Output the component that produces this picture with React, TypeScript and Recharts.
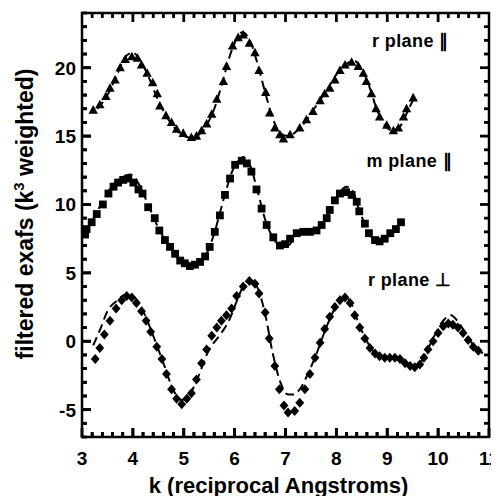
import React from "react";
import { ComposedChart, Line, XAxis, YAxis, ReferenceDot, ReferenceArea } from "recharts";

type Pt = [number, number];

// r plane, parallel (triangles) and its fit
const rParPoints: Pt[] = [
  [3.22, 16.9], [3.35, 17.3], [3.47, 17.9], [3.55, 18.5], [3.65, 19.1], [3.75, 20.0],
  [3.85, 20.6], [3.98, 20.8], [4.09, 20.7], [4.17, 20.2], [4.28, 19.6], [4.39, 18.9],
  [4.48, 18.1], [4.53, 17.2], [4.65, 16.5], [4.76, 16.0], [4.86, 15.5], [4.99, 15.2],
  [5.15, 14.9], [5.25, 15.0], [5.35, 15.4], [5.45, 15.9], [5.55, 16.6], [5.65, 17.7],
  [5.78, 19.0], [5.84, 20.1], [5.96, 21.6], [6.07, 22.2], [6.17, 22.4], [6.29, 21.8],
  [6.4, 21.1], [6.48, 19.8], [6.61, 18.2], [6.69, 16.7], [6.79, 15.6], [6.89, 15.1],
  [6.96, 14.8], [7.09, 15.1], [7.28, 15.6], [7.41, 16.2], [7.54, 16.8], [7.68, 17.6],
  [7.77, 18.1], [7.87, 18.5], [7.97, 19.1], [8.07, 19.8], [8.17, 20.2], [8.3, 20.4],
  [8.43, 20.1], [8.53, 19.6], [8.59, 19.0], [8.69, 18.1], [8.78, 17.0], [8.85, 16.4],
  [8.99, 15.8], [9.12, 15.4], [9.22, 15.6], [9.32, 16.4], [9.38, 17.0], [9.51, 17.8],
];
const rParFit: Pt[] = [
  [3.3, 17.0], [3.5, 18.0], [3.7, 19.6], [3.85, 20.8], [4.0, 21.1], [4.15, 20.5],
  [4.3, 19.4], [4.5, 17.6], [4.7, 16.2], [4.9, 15.3], [5.1, 14.9], [5.3, 15.1],
  [5.45, 15.8], [5.6, 17.0], [5.75, 18.8], [5.9, 20.8], [6.05, 22.2], [6.15, 22.6],
  [6.3, 22.0], [6.45, 20.3], [6.6, 18.2], [6.75, 16.3], [6.9, 15.2], [7.05, 15.0],
  [7.2, 15.3], [7.4, 16.1], [7.6, 17.2], [7.8, 18.3], [8.0, 19.5], [8.2, 20.3],
  [8.35, 20.5], [8.5, 19.9], [8.65, 18.6], [8.8, 16.9], [8.95, 15.8], [9.1, 15.4],
  [9.25, 15.7], [9.4, 16.8], [9.55, 18.0],
];

// m plane, parallel (squares) and its fit
const mParPoints: Pt[] = [
  [3.06, 7.8], [3.09, 8.2], [3.19, 8.7], [3.29, 9.3], [3.41, 10.0], [3.52, 10.8],
  [3.62, 11.3], [3.71, 11.6], [3.81, 11.8], [3.91, 11.9], [4.01, 11.6], [4.11, 11.1],
  [4.19, 10.8], [4.3, 9.8], [4.43, 9.0], [4.52, 8.1], [4.63, 7.4], [4.73, 6.9],
  [4.83, 6.4], [4.93, 5.9], [5.02, 5.7], [5.12, 5.5], [5.22, 5.6], [5.32, 5.8],
  [5.42, 6.2], [5.51, 6.9], [5.61, 8.0], [5.71, 9.2], [5.81, 10.7], [5.91, 11.9],
  [6.01, 12.9], [6.14, 13.2], [6.24, 13.0], [6.33, 12.4], [6.43, 11.1], [6.53, 9.7],
  [6.63, 8.5], [6.76, 7.6], [6.89, 7.0], [6.99, 7.1], [7.09, 7.5], [7.22, 7.9],
  [7.35, 8.0], [7.48, 8.0], [7.61, 8.1], [7.71, 8.5], [7.81, 9.0], [7.87, 9.6],
  [7.97, 10.3], [8.07, 10.8], [8.19, 10.9], [8.3, 10.7], [8.4, 10.2], [8.45, 9.5],
  [8.56, 8.6], [8.64, 7.9], [8.76, 7.4], [8.85, 7.3], [8.95, 7.5], [9.06, 7.9],
  [9.17, 8.2], [9.27, 8.7],
];
const mParFit: Pt[] = [
  [3.05, 7.9], [3.2, 8.8], [3.4, 10.2], [3.6, 11.4], [3.8, 12.0], [3.95, 12.2],
  [4.1, 11.6], [4.3, 10.0], [4.5, 8.3], [4.7, 7.0], [4.9, 6.0], [5.1, 5.5],
  [5.3, 5.7], [5.45, 6.4], [5.6, 7.9], [5.8, 10.6], [5.95, 12.4], [6.1, 13.3],
  [6.2, 13.5], [6.3, 12.9], [6.45, 11.0], [6.6, 8.9], [6.75, 7.6], [6.9, 7.0],
  [7.05, 7.0], [7.2, 7.7], [7.4, 8.0], [7.6, 8.1], [7.75, 8.7], [7.9, 9.8],
  [8.05, 10.8], [8.2, 11.3], [8.3, 11.1], [8.45, 9.6], [8.6, 8.2], [8.8, 7.3],
  [8.95, 7.4], [9.1, 8.0], [9.27, 8.7],
];

// r plane, perpendicular (diamonds) and its fit
const rPerpPoints: Pt[] = [
  [3.26, -1.3], [3.35, -0.5], [3.44, 0.5], [3.55, 1.5], [3.67, 2.4], [3.78, 3.0],
  [3.88, 3.3], [3.98, 3.2], [4.07, 2.8], [4.17, 2.2], [4.26, 1.5], [4.35, 0.7],
  [4.47, -0.4], [4.57, -1.3], [4.66, -2.4], [4.76, -3.5], [4.86, -4.2], [4.96, -4.6],
  [5.06, -4.2], [5.15, -3.8], [5.25, -2.8], [5.35, -1.6], [5.45, -0.6], [5.55, 0.4],
  [5.65, 1.0], [5.74, 1.5], [5.84, 1.9], [5.94, 2.4], [6.04, 3.3], [6.17, 4.0],
  [6.29, 4.4], [6.4, 4.2], [6.48, 3.5], [6.6, 2.1], [6.68, 0.2], [6.79, -1.8],
  [6.88, -3.5], [6.97, -4.7], [7.05, -5.2], [7.18, -5.1], [7.28, -4.5], [7.38, -3.5],
  [7.48, -2.4], [7.58, -1.2], [7.68, -0.1], [7.77, 0.9], [7.87, 1.8], [7.97, 2.5],
  [8.07, 3.0], [8.17, 3.2], [8.27, 2.8], [8.36, 1.9], [8.46, 1.0], [8.56, 0.2],
  [8.66, -0.5], [8.76, -0.9], [8.85, -1.1], [8.95, -1.2], [9.05, -1.2], [9.15, -1.2],
  [9.25, -1.3], [9.35, -1.6], [9.45, -1.8], [9.54, -1.9], [9.64, -1.7], [9.72, -1.2],
  [9.8, -0.6], [9.9, 0.0], [10.0, 0.6], [10.1, 1.1], [10.2, 1.3], [10.29, 1.2],
  [10.39, 1.0], [10.49, 0.6], [10.59, 0.1], [10.69, -0.4], [10.79, -0.7],
];
const rPerpFit: Pt[] = [
  [3.22, -0.3], [3.35, 0.8], [3.5, 2.2], [3.7, 3.0], [3.85, 3.4], [4.0, 3.3],
  [4.2, 2.2], [4.4, 0.4], [4.6, -1.6], [4.8, -3.6], [4.95, -4.3], [5.1, -4.0],
  [5.25, -2.9], [5.5, -0.6], [5.7, 0.4], [5.9, 1.6], [6.05, 3.0], [6.15, 3.9],
  [6.3, 4.5], [6.45, 3.9], [6.6, 2.0], [6.75, -0.9], [6.9, -3.0], [7.05, -3.9],
  [7.15, -3.9], [7.3, -3.4], [7.45, -2.3], [7.6, -1.0], [7.8, 1.0], [8.0, 2.6],
  [8.15, 3.3], [8.3, 2.7], [8.45, 1.2], [8.6, 0.0], [8.8, -1.0], [9.0, -1.2],
  [9.2, -1.3], [9.4, -1.7], [9.55, -1.9], [9.7, -1.3], [9.9, 0.2], [10.1, 1.5],
  [10.25, 1.9], [10.4, 1.4], [10.6, 0.2], [10.8, -0.7], [10.9, -0.9],
];

const xMajorTicks = [3, 4, 5, 6, 7, 8, 9, 10, 11];
const yMajorTicks = [-5, 0, 5, 10, 15, 20];
const xDomain: [number, number] = [3, 11];
const yDomain: [number, number] = [-7, 24];

const notes = [
  { text: "r plane \u2225", k: 8.7, v: 21.5 },
  { text: "m plane \u2225", k: 8.59, v: 12.73 },
  { text: "r plane \u22A5", k: 8.62, v: 4.03 },
];

const FONT = "'Liberation Sans', Arial, Helvetica, sans-serif";

const rows = (pts: Pt[]) => pts.map(([k, v]) => ({ k, v }));

// minor tick positions along an axis (x every 0.2, y every 1)
function minorTicks(lo: number, hi: number, step: number) {
  const out: number[] = [];
  const n = Math.round((hi - lo) / step);
  for (let i = 0; i <= n; i++) out.push(Math.round((lo + i * step) * 10) / 10);
  return out;
}
const xTicks = minorTicks(3, 11, 0.2);
const yTicks = minorTicks(-7, 24, 1);
const isMajor = (majors: number[], v: number) => majors.some((m) => Math.abs(m - v) < 1e-6);

// tick mark sizes (pixels), turned into data units for the plot box of 407 x 424 px
const X_PER_PX = (xDomain[1] - xDomain[0]) / 407;
const Y_PER_PX = (yDomain[1] - yDomain[0]) / 424;
const MAJOR_PX = 9;
const MINOR_PX = 5;
const HALF_W_PX = 1.4;

const innerX = xTicks.filter((v) => v > xDomain[0] && v < xDomain[1]);
const innerY = yTicks.filter((v) => v > yDomain[0] && v < yDomain[1]);

// tick rows sitting on the frame (carry the numbers and a second tick layer)
const bottomTicks = xTicks.map((k) => ({ k, v: yDomain[0] }));
const leftTicks = yTicks.map((v) => ({ k: xDomain[0], v }));

const tickText = { fontFamily: FONT, fontSize: 19, fontWeight: 700, fill: "#000" };

const bottomTick = (p: any) => {
  const major = isMajor(xMajorTicks, p.payload.k);
  const len = major ? MAJOR_PX : MINOR_PX;
  return (
    <g key={`bt${p.index}`}>
      <rect x={p.cx - HALF_W_PX} y={p.cy - len} width={2 * HALF_W_PX} height={len} fill="#000" />
      {major && <text x={p.cx} y={p.cy + 28} textAnchor="middle" {...tickText}>{Math.round(p.payload.k)}</text>}
    </g>
  );
};
const leftTick = (p: any) => {
  const major = isMajor(yMajorTicks, p.payload.v);
  const len = major ? MAJOR_PX : MINOR_PX;
  return (
    <g key={`lt${p.index}`}>
      <rect x={p.cx} y={p.cy - HALF_W_PX} width={len} height={2 * HALF_W_PX} fill="#000" />
      {major && <text x={p.cx - 6} y={p.cy + 7} textAnchor="end" {...tickText}>{Math.round(p.payload.v)}</text>}
    </g>
  );
};

function XTitle(props: any) {
  const { x, y, width } = props.viewBox;
  return (
    <text x={x + width / 2 - 7} y={y + 56} textAnchor="middle" fontFamily={FONT} fontSize={22} fontWeight={700} fill="#000">
      k (reciprocal Angstroms)
    </text>
  );
}

function YTitle(props: any) {
  const { x, y, height } = props.viewBox;
  const cx = x + 25;
  const cy = y + height / 2 - 11;
  return (
    <text transform={`rotate(-90 ${cx} ${cy})`} x={cx} y={cy} textAnchor="middle" fontFamily={FONT} fontSize={23} fontWeight={700} fill="#000">
      filtered exafs (k<tspan dy={-9} fontSize={15}>3</tspan>
      <tspan dy={9}> weighted)</tspan>
    </text>
  );
}

const triangle = (p: any) => (
  <path key={`t${p.index}`} d={`M${p.cx},${p.cy - 5}L${p.cx + 4.7},${p.cy + 3.6}L${p.cx - 4.7},${p.cy + 3.6}Z`} fill="#000" />
);
const square = (p: any) => (
  <rect key={`s${p.index}`} x={p.cx - 3.9} y={p.cy - 3.9} width={7.8} height={7.8} fill="#000" />
);
const diamond = (p: any) => (
  <path key={`d${p.index}`} d={`M${p.cx},${p.cy - 5}L${p.cx + 4.4},${p.cy}L${p.cx},${p.cy + 5}L${p.cx - 4.4},${p.cy}Z`} fill="#000" />
);

const fits = [rParFit, mParFit, rPerpFit];
const points: [Pt[], (p: any) => React.ReactElement][] = [
  [rParPoints, triangle],
  [mParPoints, square],
  [rPerpPoints, diamond],
];

const tickArea = { xAxisId: "b", yAxisId: "l", fill: "#000", fillOpacity: 1, stroke: "none", ifOverflow: "visible" as const };

export default function App() {
  return (
    <div style={{ width: 491, height: 496, marginBottom: -8 }}>
      <ComposedChart width={491} height={496} margin={{ top: 5, right: 10, bottom: 0, left: 0 }}>
        <XAxis xAxisId="b" dataKey="k" type="number" domain={xDomain} orientation="bottom" height={67}
          tick={false} tickLine={false} axisLine={false} label={{ content: XTitle }} />
        <YAxis yAxisId="l" type="number" domain={yDomain} orientation="left" width={74}
          tick={false} tickLine={false} axisLine={false} label={{ content: YTitle }} />
        {fits.map((f, i) => (
          <Line key={`f${i}`} xAxisId="b" yAxisId="l" data={rows(f)} dataKey="v" type="monotone"
            stroke="#000" strokeWidth={2} strokeDasharray="9 5" dot={false} activeDot={false}
            isAnimationActive={false} />
        ))}
        {points.map(([pts, shape], i) => (
          <Line key={`p${i}`} xAxisId="b" yAxisId="l" data={rows(pts)} dataKey="v" stroke="none"
            dot={shape} activeDot={false} isAnimationActive={false} />
        ))}
        <Line xAxisId="b" yAxisId="l" data={bottomTicks} dataKey="v" stroke="none"
          dot={bottomTick} activeDot={false} isAnimationActive={false} />
        <Line xAxisId="b" yAxisId="l" data={leftTicks} dataKey="v" stroke="none"
          dot={leftTick} activeDot={false} isAnimationActive={false} />
        {innerX.map((v) => {
          const len = (isMajor(xMajorTicks, v) ? MAJOR_PX : MINOR_PX) * Y_PER_PX;
          const hw = HALF_W_PX * X_PER_PX;
          return (
            <React.Fragment key={`xa${v}`}>
              <ReferenceArea {...tickArea} x1={v - hw} x2={v + hw} y1={yDomain[0]} y2={yDomain[0] + len} />
              <ReferenceArea {...tickArea} x1={v - hw} x2={v + hw} y1={yDomain[1] - len} y2={yDomain[1]} />
            </React.Fragment>
          );
        })}
        {innerY.map((v) => {
          const len = (isMajor(yMajorTicks, v) ? MAJOR_PX : MINOR_PX) * X_PER_PX;
          const hh = HALF_W_PX * Y_PER_PX;
          return (
            <React.Fragment key={`ya${v}`}>
              <ReferenceArea {...tickArea} x1={xDomain[0]} x2={xDomain[0] + len} y1={v - hh} y2={v + hh} />
              <ReferenceArea {...tickArea} x1={xDomain[1] - len} x2={xDomain[1]} y1={v - hh} y2={v + hh} />
            </React.Fragment>
          );
        })}
        <ReferenceArea xAxisId="b" yAxisId="l" x1={xDomain[0]} x2={xDomain[1]} y1={yDomain[0]} y2={yDomain[1]}
          fill="none" fillOpacity={0} stroke="#000" strokeWidth={2.5} ifOverflow="visible" />
        {notes.map((n) => (
          <ReferenceDot key={n.text} xAxisId="b" yAxisId="l" x={n.k} y={n.v} r={0} fill="none" stroke="none"
            ifOverflow="visible"
            label={{
              content: (p: any) => (
                <text x={p.viewBox.x} y={p.viewBox.y} fontFamily={FONT} fontSize={18} fontWeight={700}
                  letterSpacing={0.4} fill="#000">
                  {n.text}
                </text>
              ),
            }} />
        ))}
      </ComposedChart>
    </div>
  );
}
